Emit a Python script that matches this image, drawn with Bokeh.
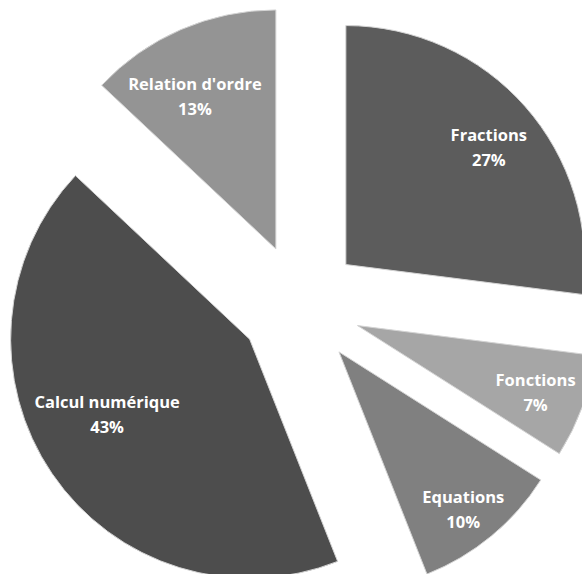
import math
from bokeh.plotting import figure
from bokeh.models import Range1d, ColumnDataSource
from bokeh.core.properties import value
from bokeh.embed import file_html
from bokeh.resources import INLINE

# ---- data ----
categories = ["Fractions", "Fonctions", "Equations", "Calcul numérique", "Relation d'ordre"]
percents = [27, 7, 10, 43, 13]

# ---- style ----
colors = ["#5c5c5c", "#a6a6a6", "#808080", "#4d4d4d", "#949494"]
label_dist = [185, 190, 200, 161, 173]
label_shift_deg = [-2.0, -0.6, -1.2, -6.5, 4.5]
W, H = 582, 574
cx, cy = 299.6, H - 304.4
radius = 239
explode = 61

total = sum(percents)
starts, ends, xs, ys, lx, ly = [], [], [], [], [], []
cum = 0.0
for i, v in enumerate(percents):
    a_top = math.pi / 2 - 2 * math.pi * cum / total
    cum += v
    a_bot = math.pi / 2 - 2 * math.pi * cum / total
    mid = (a_top + a_bot) / 2
    x0 = cx + explode * math.cos(mid)
    y0 = cy + explode * math.sin(mid)
    starts.append(a_bot)
    ends.append(a_top)
    xs.append(x0)
    ys.append(y0)
    la = mid + math.radians(label_shift_deg[i])
    lx.append(x0 + label_dist[i] * math.cos(la))
    ly.append(y0 + label_dist[i] * math.sin(la))

src = ColumnDataSource(dict(
    x=xs, y=ys, start=starts, end=ends, color=colors,
    name=categories, pct=[f"{v}%" for v in percents],
    lx=lx, ly1=[y + 12.5 for y in ly], ly2=[y - 12.5 for y in ly],
))

p = figure(width=W, height=H, output_backend="svg", toolbar_location=None,
           x_range=Range1d(0, W), y_range=Range1d(0, H),
           min_border=0, outline_line_color=None)
p.axis.visible = False
p.grid.visible = False
p.background_fill_color = "white"
p.border_fill_color = "white"

p.wedge(x="x", y="y", radius=radius, start_angle="start", end_angle="end",
        fill_color="color", line_color="#d4d4d4", line_width=1, source=src)

for col in ("ly1", "ly2"):
    txt = "name" if col == "ly1" else "pct"
    p.text(x="lx", y=col, text=txt, source=src, text_align="center",
           text_baseline="middle", text_font=value("Open Sans"),
           text_font_style="bold", text_font_size="16.5px", text_color="white")

open("out.html", "w").write(file_html(p, INLINE))
